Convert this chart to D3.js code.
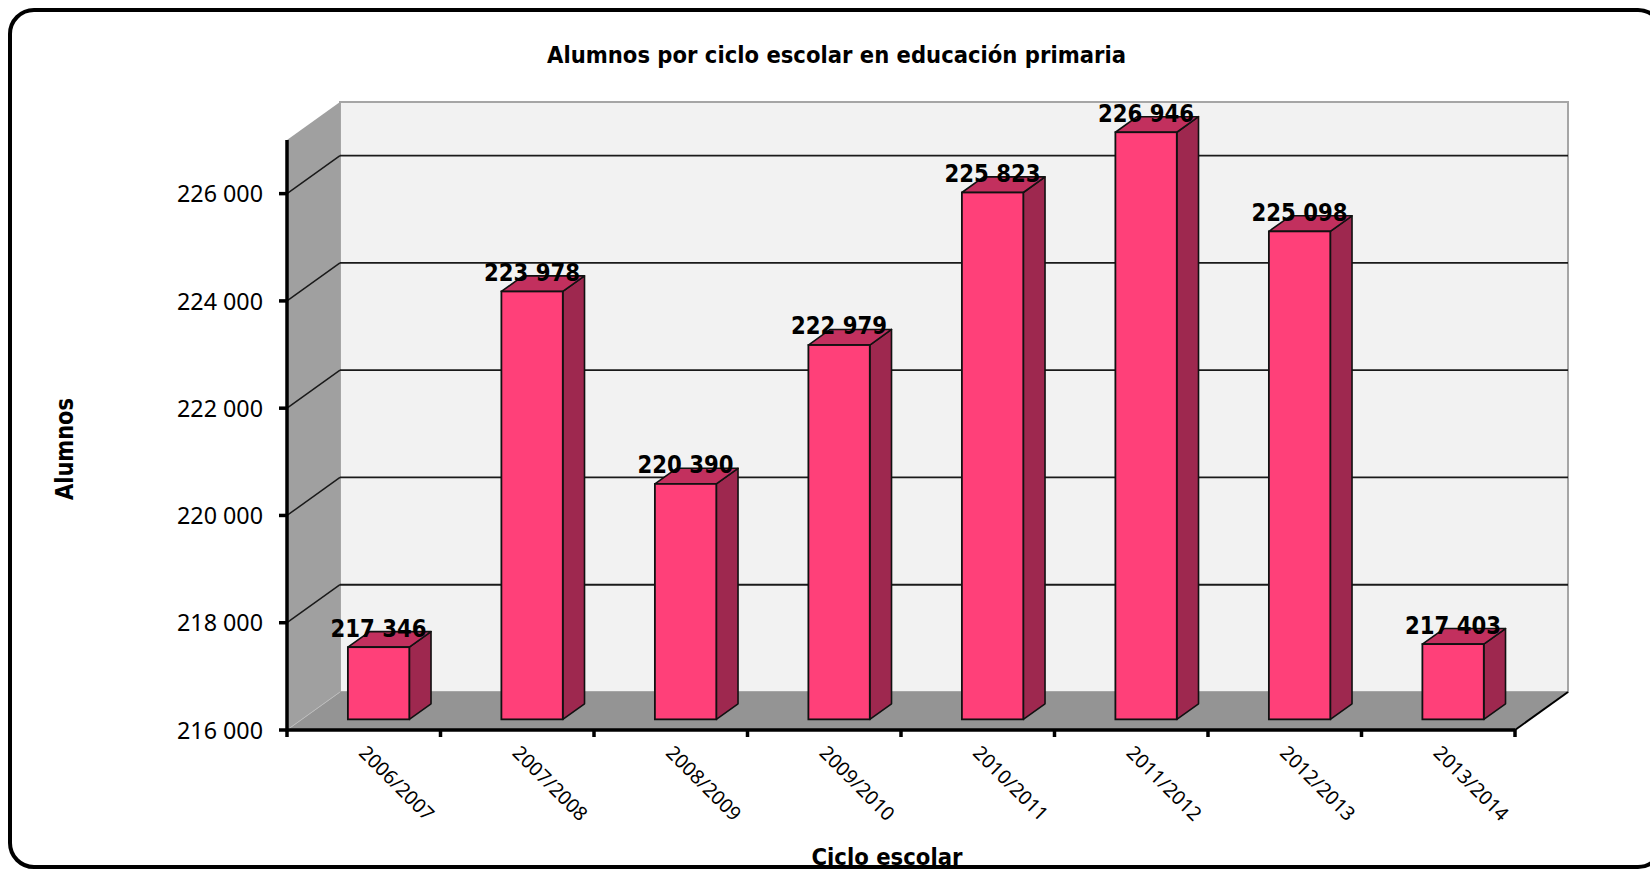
<!DOCTYPE html>
<html>
<head>
<meta charset="utf-8">
<script src="https://cdn.jsdelivr.net/npm/d3@7"></script>
<style>
  html, body { margin: 0; padding: 0; background: #ffffff; overflow: hidden; }
  svg { display: block; }
</style>
</head>
<body>
<svg id="chart" width="1650" height="871"></svg>
<script>
// ---- data ----
const categories = ["2006/2007", "2007/2008", "2008/2009", "2009/2010", "2010/2011", "2011/2012", "2012/2013", "2013/2014"];
const values = [217346, 223978, 220390, 222979, 225823, 226946, 225098, 217403];
const yTicks = [216000, 218000, 220000, 222000, 224000, 226000];
const yDomain = [216000, 227000];
const titleText = "Alumnos por ciclo escolar en educación primaria";
const yTitleText = "Alumnos";
const xTitleText = "Ciclo escolar";

(function () {
// ---- layout ----
const pL = 287, pR = 1515, pB = 730, pT = 140;
const DX = 53, DY = 38;          // depth projection
const d0 = 0.28, d1 = 0.69;      // bar depth range
const svg = d3.select("#chart");

const x = d3.scaleBand().domain(categories).range([pL, pR]).paddingInner(0).paddingOuter(0);
const y = d3.scaleLinear().domain(yDomain).range([pB, pT]);
const barW = x.bandwidth() / 2.5;
const fmt = v => d3.format(",")(v).replace(/,/g, " ");
const P = (px, v, d) => [px + d * DX, y(v) - d * DY];
const base = yDomain[0], topV = yDomain[1];

// outer rounded frame
svg.append("rect")
  .attr("x", 10).attr("y", 10).attr("width", 1652).attr("height", 857)
  .attr("rx", 24).attr("ry", 24)
  .attr("fill", "#ffffff").attr("stroke", "#000").attr("stroke-width", 4);

// back wall
const bw0 = P(pL, topV, 1), bw1 = P(pR, base, 1);
svg.append("rect")
  .attr("x", bw0[0]).attr("y", bw0[1])
  .attr("width", bw1[0] - bw0[0]).attr("height", bw1[1] - bw0[1])
  .attr("fill", "#f2f2f2").attr("stroke", "#a6a6a6").attr("stroke-width", 2);

// left wall
const lw = [P(pL, base, 0), P(pL, topV, 0), P(pL, topV, 1), P(pL, base, 1)];
svg.append("polygon")
  .attr("points", lw.map(p => p.join(",")).join(" "))
  .attr("fill", "#a0a0a0").attr("stroke", "none");

// floor
const fl = [P(pL, base, 0), P(pL, base, 1), P(pR, base, 1), P(pR, base, 0)];
svg.append("polygon")
  .attr("points", fl.map(p => p.join(",")).join(" "))
  .attr("fill", "#949494").attr("stroke", "none");
svg.append("line")
  .attr("x1", P(pL, base, 0)[0]).attr("y1", P(pL, base, 0)[1])
  .attr("x2", P(pL, base, 1)[0]).attr("y2", P(pL, base, 1)[1])
  .attr("stroke", "#bdbdbd").attr("stroke-width", 1);
svg.append("line")
  .attr("x1", P(pR, base, 0)[0]).attr("y1", P(pR, base, 0)[1])
  .attr("x2", P(pR, base, 1)[0]).attr("y2", P(pR, base, 1)[1])
  .attr("stroke", "#000").attr("stroke-width", 2);

// gridlines
const grid = svg.append("g");
yTicks.filter(t => t > base).forEach(t => {
  const a = P(pL, t, 0), b = P(pL, t, 1), c = P(pR, t, 1);
  grid.append("line").attr("x1", a[0]).attr("y1", a[1]).attr("x2", b[0]).attr("y2", b[1])
    .attr("stroke", "#1a1a1a").attr("stroke-width", 1.5);
  grid.append("line").attr("x1", b[0]).attr("y1", b[1]).attr("x2", c[0]).attr("y2", c[1])
    .attr("stroke", "#1a1a1a").attr("stroke-width", 1.8);
});

// bars
const bars = svg.append("g");
categories.forEach((c, i) => {
  const v = values[i];
  const cx = x(c) + x.bandwidth() / 2;
  const xl = cx - barW / 2, xr = cx + barW / 2;
  const side = [P(xr, v, d0), P(xr, v, d1), P(xr, base, d1), P(xr, base, d0)];
  const topF = [P(xl, v, d0), P(xl, v, d1), P(xr, v, d1), P(xr, v, d0)];
  const f0 = P(xl, v, d0), f1 = P(xr, base, d0);
  bars.append("polygon").attr("points", side.map(p => p.join(",")).join(" "))
    .attr("fill", "#9e284f").attr("stroke", "#111").attr("stroke-width", 1.6).attr("stroke-linejoin", "round");
  bars.append("polygon").attr("points", topF.map(p => p.join(",")).join(" "))
    .attr("fill", "#c2305e").attr("stroke", "#111").attr("stroke-width", 1.6).attr("stroke-linejoin", "round");
  bars.append("rect").attr("x", f0[0]).attr("y", f0[1])
    .attr("width", f1[0] - f0[0]).attr("height", f1[1] - f0[1])
    .attr("fill", "#ff4079").attr("stroke", "#111").attr("stroke-width", 1.8);
});

// value labels
const labels = svg.append("g");
categories.forEach((c, i) => {
  const v = values[i];
  const cx = x(c) + x.bandwidth() / 2 + d0 * DX;
  const yy = y(v) - d1 * DY + 5;
  labels.append("text")
    .attr("x", cx).attr("y", yy)
    .attr("text-anchor", "middle")
    .attr("font-family", "'DejaVu Sans', Verdana, sans-serif")
    .attr("font-weight", "bold").attr("font-size", 24)
    .attr("textLength", 96).attr("lengthAdjust", "spacingAndGlyphs")
    .attr("fill", "#000").text(fmt(v));
});

// y axis
const yAxis = svg.append("g");
yAxis.append("line").attr("x1", pL).attr("y1", pT).attr("x2", pL).attr("y2", pB + 1.5)
  .attr("stroke", "#000").attr("stroke-width", 3.5);
yTicks.forEach(t => {
  yAxis.append("line").attr("x1", pL - 8).attr("y1", y(t)).attr("x2", pL).attr("y2", y(t))
    .attr("stroke", "#000").attr("stroke-width", 3.5);
  yAxis.append("text").attr("x", 263).attr("y", y(t)).attr("dy", "0.36em")
    .attr("text-anchor", "end")
    .attr("font-family", "'Noto Sans', sans-serif").attr("font-size", 24)
    .attr("textLength", 86).attr("lengthAdjust", "spacingAndGlyphs")
    .attr("fill", "#000").text(fmt(t));
});

// x axis
const xAxis = svg.append("g");
xAxis.append("line").attr("x1", pL).attr("y1", pB).attr("x2", pR).attr("y2", pB)
  .attr("stroke", "#000").attr("stroke-width", 3.5);
const bounds = categories.map(c => x(c)).concat([pR]);
bounds.forEach(b => {
  xAxis.append("line").attr("x1", b).attr("y1", pB).attr("x2", b).attr("y2", pB + 7)
    .attr("stroke", "#000").attr("stroke-width", 3.5);
});
categories.forEach(c => {
  const cx = x(c) + x.bandwidth() / 2 - 6;
  xAxis.append("text")
    .attr("transform", `translate(${cx},${pB + 24}) rotate(45)`)
    .attr("text-anchor", "start")
    .attr("font-family", "'Noto Sans', sans-serif").attr("font-size", 19.5)
    .attr("fill", "#000").text(c);
});

// titles
svg.append("text").attr("x", 836.5).attr("y", 63).attr("text-anchor", "middle")
  .attr("font-family", "'DejaVu Sans', Verdana, sans-serif").attr("font-weight", "bold").attr("font-size", 23.5)
  .attr("textLength", 579).attr("lengthAdjust", "spacingAndGlyphs")
  .attr("fill", "#000").text(titleText);
svg.append("text").attr("transform", "translate(73,449) rotate(-90)").attr("text-anchor", "middle")
  .attr("font-family", "'DejaVu Sans', Verdana, sans-serif").attr("font-weight", "bold").attr("font-size", 24)
  .attr("textLength", 102).attr("lengthAdjust", "spacingAndGlyphs")
  .attr("fill", "#000").text(yTitleText);
svg.append("text").attr("x", 887).attr("y", 865).attr("text-anchor", "middle")
  .attr("font-family", "'DejaVu Sans', Verdana, sans-serif").attr("font-weight", "bold").attr("font-size", 23.5)
  .attr("textLength", 151).attr("lengthAdjust", "spacingAndGlyphs")
  .attr("fill", "#000").text(xTitleText);
})();
</script>
</body>
</html>
